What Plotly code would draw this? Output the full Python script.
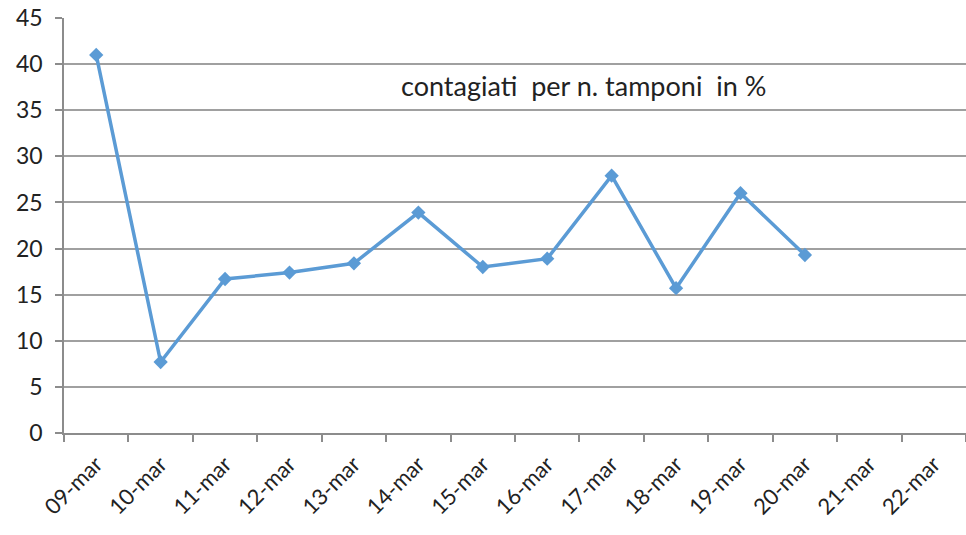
import plotly.graph_objects as go

categories = ["09-mar", "10-mar", "11-mar", "12-mar", "13-mar", "14-mar", "15-mar",
              "16-mar", "17-mar", "18-mar", "19-mar", "20-mar", "21-mar", "22-mar"]
data_dates = ["09-mar", "10-mar", "11-mar", "12-mar", "13-mar", "14-mar", "15-mar",
              "16-mar", "17-mar", "18-mar", "19-mar", "20-mar"]
values = [41.0, 7.7, 16.7, 17.4, 18.4, 23.9, 18.0, 18.9, 27.9, 15.7, 26.0, 19.3]
y_ticks = [0, 5, 10, 15, 20, 25, 30, 35, 40, 45]
title_text = "contagiati  per n. tamponi  in %"

FONT = "Lato, Open Sans, sans-serif"

fig = go.Figure()
fig.add_trace(go.Scatter(
    x=data_dates, y=values, mode="lines+markers",
    line=dict(color="#5b9bd5", width=3.5),
    marker=dict(symbol="diamond", size=11, color="#5b9bd5"),
    showlegend=False,
))

fig.update_layout(
    width=966, height=535,
    margin=dict(l=64, r=0, t=18, b=102),
    paper_bgcolor="white", plot_bgcolor="white",
    font=dict(family=FONT, color="#222222"),
    xaxis=dict(
        type="category", categoryorder="array", categoryarray=categories,
        tickvals=categories, range=[-0.5, 13.5], automargin=False,
        tickson="boundaries", ticks="outside", ticklen=7, tickcolor="#8c8c8c", tickwidth=1.5,
        showline=True, linecolor="#8c8c8c", linewidth=1.5,
        showgrid=False, tickangle=-45, tickfont=dict(size=22, family=FONT, color="#222222"),
        ticklabelstandoff=8, ticklabeloverflow="allow",
    ),
    yaxis=dict(
        range=[0, 45], tickvals=y_ticks, ticks="outside", ticklen=7, automargin=False,
        tickcolor="#8c8c8c", tickwidth=1.5,
        showline=True, linecolor="#8c8c8c", linewidth=1.5,
        showgrid=True, gridcolor="#a0a0a0", gridwidth=1.5,
        zeroline=False, tickfont=dict(size=23, family=FONT, color="#222222"),
        ticklabelstandoff=8, ticklabeloverflow="allow",
    ),
    annotations=[dict(
        text=title_text, xref="paper", yref="y", x=0.576, y=37.7,
        showarrow=False, font=dict(size=27, family=FONT, color="#222222"),
    )],
)

fig.write_html("out.html", config={"displayModeBar": False},
               post_script="document.body.style.margin='0';")
